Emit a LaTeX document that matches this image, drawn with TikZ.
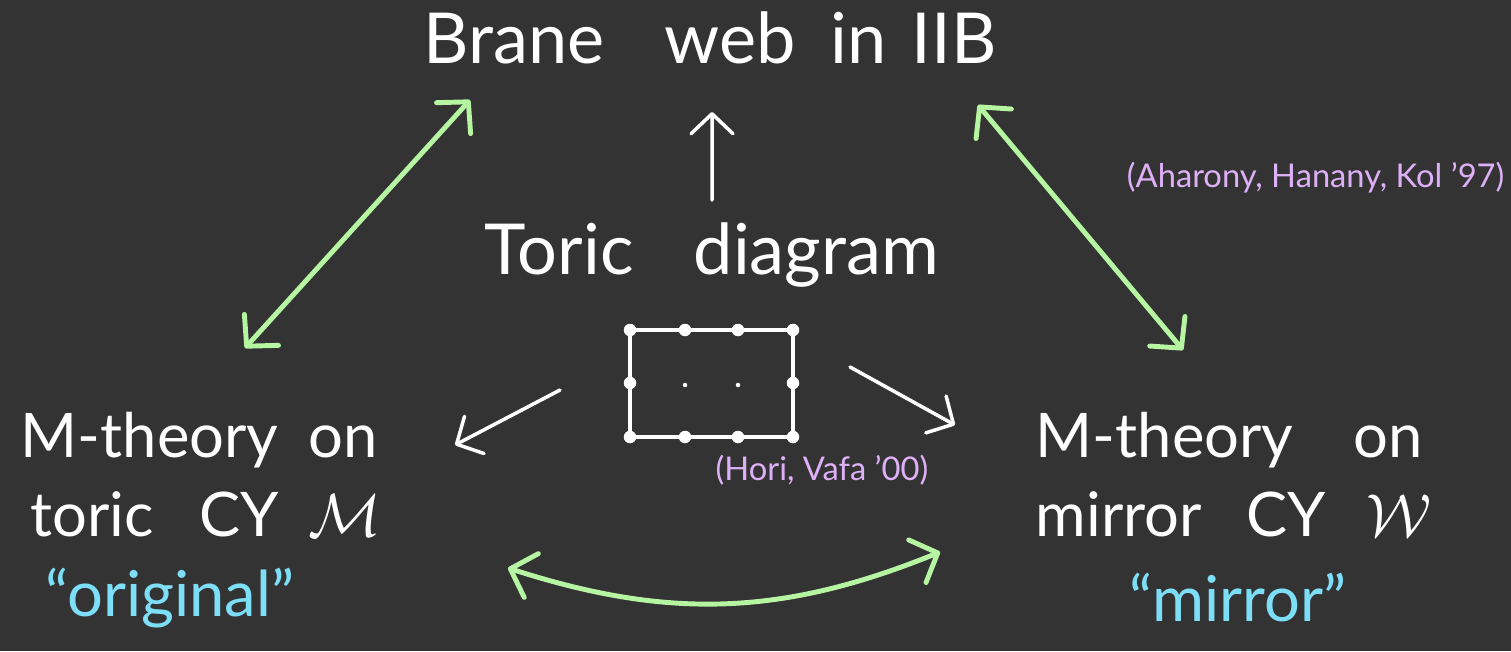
\documentclass[tikz,border=0pt]{standalone}
\usepackage{fontspec}
\setmainfont{Lato}
\usetikzlibrary{arrows.meta, positioning, calc}
\definecolor{boardbg}{RGB}{51, 51, 51}
\definecolor{chalkgreen}{RGB}{182, 245, 162}
\definecolor{chalkcyan}{RGB}{125, 222, 247}
\definecolor{chalkviolet}{RGB}{222, 176, 247}

\begin{document}
\begin{tikzpicture}[
        big/.style={text=white, font=\fontsize{20}{26}\selectfont, inner sep=0pt},
        side/.style={text=white, font=\fontsize{17.5}{22.5}\selectfont, align=left, inner sep=0pt, anchor=west},
        quoted/.style={text=chalkcyan, font=\fontsize{18}{22}\selectfont, inner sep=0pt},
        cite/.style={text=chalkviolet, font=\fontsize{9.3}{11}\selectfont, inner sep=0pt},
        wharrow/.style={white, line width=1pt, line cap=round, -{Straight Barb[length=2mm, width=4.2mm, round]}},
        grarrow/.style={chalkgreen, line width=1.4pt, line cap=round, {Straight Barb[length=2.2mm, width=4.6mm, round]}-{Straight Barb[length=2.2mm, width=4.6mm, round]}},
        site/.style={circle, fill=white, inner sep=0pt, minimum size=1.25mm},
        inner/.style={circle, fill=white, inner sep=0pt, minimum size=0.45mm}
    ]
        % Board
        \fill[boardbg] (0,0) rectangle (15.11,6.51);
        \useasboundingbox (0,0) rectangle (15.11,6.51);

        % Titles
        \node[big] (brane) at (7.10,6.13) {Brane\hspace{0.6cm}web\hspace{0.35cm}in\hspace{0.25cm}IIB};
        \node[big] (toric) at (7.12,3.96) {Toric\hspace{0.6cm}diagram};

        % M-theory sides
        \node[side] (orig) at (0.20,1.76) {M-theory\hspace{0.3cm}on\\\hspace{0.1cm}toric\hspace{0.45cm}CY\hspace{0.3cm}$\mathcal{M}$};
        \node[side] (mirr) at (10.35,1.76) {M-theory\hspace{0.6cm}on\\mirror\hspace{0.45cm}CY\hspace{0.4cm}$\mathcal{W}$};
        \node[quoted] (origq) at (1.70,0.53) {``original''};
        \node[quoted] (mirrq) at (12.38,0.53) {``mirror''};

        % References
        \node[cite, anchor=east] (ahk) at (15.05,4.73) {(Aharony, Hanany, Kol '97)};
        \node[cite, anchor=west] (hv) at (7.15,1.81) {(Hori, Vafa '00)};

        % Toric diagram
        \coordinate (grid) at (7.115,2.675);
        \draw[white, line width=0.9pt] (6.30,2.14) rectangle (7.93,3.21);
        \foreach \x in {6.30,6.85,7.38,7.93} {
            \node[site] at (\x,3.21) {};
            \node[site] at (\x,2.14) {};
        }
        \node[site] at (6.30,2.68) {};
        \node[site] at (7.93,2.68) {};
        \node[inner] at (6.85,2.66) {};
        \node[inner] at (7.38,2.66) {};

        % Arrows
        \draw[wharrow] ([shift={(0,0.55)}]toric.center) -- ([shift={(0.02,-0.74)}]brane.center);
        \draw[wharrow] ([shift={(-1.515,-0.065)}]grid) -- ([shift={(4.35,0.30)}]orig.west);
        \draw[wharrow] ([shift={(1.385,0.165)}]grid) -- ([shift={(-0.80,0.50)}]mirr.west);
        \draw[grarrow] ([shift={(2.25,1.27)}]orig.west) -- ([shift={(-2.40,-0.62)}]brane.center);
        \draw[grarrow] ([shift={(2.68,-0.67)}]brane.center) -- ([shift={(1.48,1.25)}]mirr.west);
        \draw[grarrow] ([shift={(4.88,-0.93)}]orig.west) to[bend right=20] ([shift={(-0.95,-0.77)}]mirr.west);
    \end{tikzpicture}
\end{document}
